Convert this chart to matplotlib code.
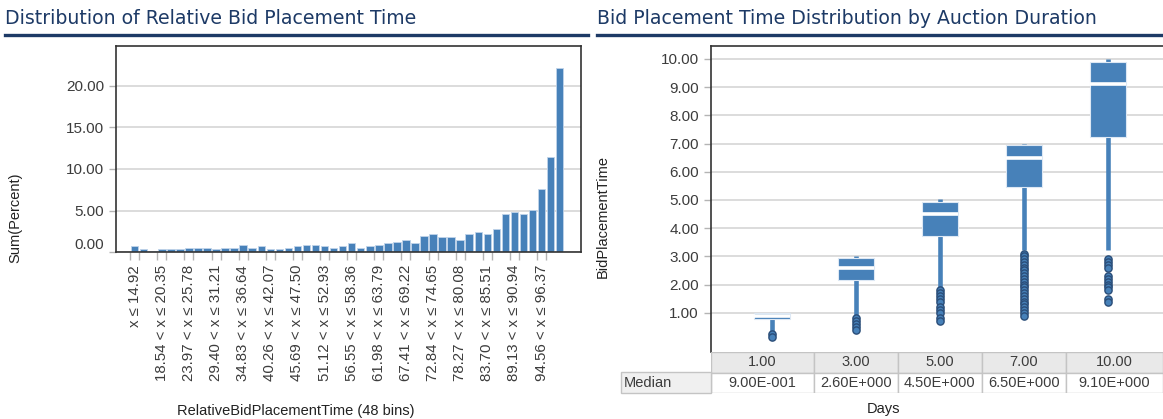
"""Spotfire-style dashboard: relative bid time histogram + box plot by auction duration."""

import matplotlib

matplotlib.use("Agg")
import matplotlib.pyplot as plt
from matplotlib.lines import Line2D
from matplotlib.patches import Rectangle

# --------------------------------------------------------------------------- #
# Data
# --------------------------------------------------------------------------- #

# 48 bins of RelativeBidPlacementTime, bin edges 13.11 .. 100.00 step 1.81
bin_lo = [13.11 + 1.81 * i for i in range(48)]
bin_hi = [14.92 + 1.81 * i for i in range(48)]
percent = [
    0.72, 0.36, 0.16, 0.36, 0.36, 0.36, 0.56, 0.56, 0.56, 0.36, 0.56, 0.56,
    0.88, 0.56, 0.72, 0.36, 0.36, 0.56, 0.72, 0.88, 0.88, 0.72, 0.56, 0.72,
    1.08, 0.56, 0.72, 0.88, 1.08, 1.24, 1.44, 1.08, 1.92, 2.16, 1.80, 1.80,
    1.44, 2.16, 2.48, 2.16, 2.84, 4.60, 4.80, 4.60, 5.12, 7.56, 11.45, 22.15,
]
hist_yticks = [0, 5, 10, 15, 20]

days = ["1.00", "3.00", "5.00", "7.00", "10.00"]
q1 = [0.78, 2.15, 3.74, 5.47, 7.22]
median = [0.90, 2.60, 4.50, 6.50, 9.10]
q3 = [1.00, 2.95, 4.94, 6.94, 9.90]
whis_lo = [0.33, 0.90, 1.93, 3.24, 3.22]
whis_hi = [1.00, 3.02, 5.02, 7.00, 10.00]
outliers = [
    [0.25, 0.15],
    [0.80, 0.70, 0.60, 0.50, 0.40],
    [1.80, 1.70, 1.60, 1.50, 1.40, 1.20, 1.10, 1.00, 0.80, 0.70],
    [3.10, 3.00, 2.90, 2.80, 2.70, 2.60, 2.50, 2.40, 2.30, 2.20, 2.10, 2.00,
     1.90, 1.80, 1.70, 1.60, 1.50, 1.40, 1.30, 1.20, 1.10, 1.00, 0.90],
    [2.90, 2.80, 2.70, 2.60, 2.30, 2.20, 2.10, 2.00, 1.90, 1.80, 1.50, 1.40],
]
box_yticks = [1, 2, 3, 4, 5, 6, 7, 8, 9, 10]

# --------------------------------------------------------------------------- #
# Style
# --------------------------------------------------------------------------- #
W, H = 1163, 419
BLUE = "#4781b9"
NAVY = "#1d3a66"
GRID = "#d9d9d9"
TICK = "#b4b4b4"
TXT = "#3c3c3c"

plt.rcParams["font.family"] = ["Liberation Sans", "DejaVu Sans"]
plt.rcParams["font.size"] = 10


def px_box(left, top, right, bottom):
    """Axes rect from pixel edges (origin top-left)."""
    return [left / W, 1 - bottom / H, (right - left) / W, (bottom - top) / H]


def fx(x):
    return x / W


def fy(y):
    return 1 - y / H


fig = plt.figure(figsize=(W / 100, H / 100), dpi=100)

# Panel titles with underline
for x0, x1, title in [
    (5, 588, "Distribution of Relative Bid Placement Time"),
    (597, 1163, "Bid Placement Time Distribution by Auction Duration"),
]:
    fig.text(fx(x0), fy(18), title, fontsize=13.6, color=NAVY, va="center",
             ha="left", family="DejaVu Sans")
    fig.add_artist(Line2D([fx(x0), fx(x1)], [fy(35), fy(35)], color=NAVY, lw=2.4,
                          transform=fig.transFigure))


def style_axes(ax):
    for sp in ax.spines.values():
        sp.set_color("#333333")
        sp.set_linewidth(1.2)
    ax.tick_params(axis="y", colors=TICK, labelcolor=TXT, length=5, width=1,
                   labelsize=11)
    ax.grid(True, axis="y", color=GRID, lw=1.3)
    ax.set_axisbelow(True)


# --------------------------------------------------------------------------- #
# Left: histogram
# --------------------------------------------------------------------------- #
ax1 = fig.add_axes(px_box(115.7, 45.7, 580.7, 252.3))
style_axes(ax1)
pos = list(range(len(percent)))
ax1.bar([p + 0.5 for p in pos], percent, width=0.83, color=BLUE,
        edgecolor="#c0d4ea", linewidth=0.6, zorder=2)
ax1.set_xlim(-1.6, 49.83)
ax1.set_ylim(0, 24.8)
ax1.set_yticks(hist_yticks)
ax1.set_yticklabels([f"{v:.2f}" for v in hist_yticks])
ax1.get_yticklabels()[0].set_va("bottom")

lab_idx = pos[::3]
labels = []
for i in lab_idx:
    if i == 0:
        labels.append(f"x \u2264 {bin_hi[i]:.2f}")
    else:
        labels.append(f"{bin_lo[i]:.2f} < x \u2264 {bin_hi[i]:.2f}")
ax1.set_xticks([i + 0.5 for i in lab_idx])
ax1.set_xticklabels(labels, rotation=90, fontsize=10.8, color=TXT)
ax1.tick_params(axis="x", length=0, pad=9)
ax1.set_xticks([e for i in lab_idx for e in (i, i + 1)], minor=True)
ax1.tick_params(axis="x", which="minor", length=6, width=1, colors=TICK)

fig.text(fx(296), fy(411), "RelativeBidPlacementTime (48 bins)", ha="center",
         va="center", fontsize=10.5, color="#222222")
fig.text(fx(15), fy(218), "Sum(Percent)", rotation=90, ha="center", va="center",
         fontsize=10.5, color="#222222")

# --------------------------------------------------------------------------- #
# Right: box plot
# --------------------------------------------------------------------------- #
AX2_L, AX2_R, SLOT = 710.7, 1170, 84.0
ax2 = fig.add_axes(px_box(AX2_L, 45.7, AX2_R, 352))
style_axes(ax2)
ax2.spines["bottom"].set_visible(False)
ax2.spines["right"].set_visible(False)

stats = []
for k in range(len(days)):
    stats.append(dict(q1=q1[k], med=median[k], q3=q3[k], whislo=whis_lo[k],
                      whishi=whis_hi[k], fliers=outliers[k]))
xpos = list(range(len(days)))
ax2.bxp(
    stats, positions=xpos, widths=0.43, patch_artist=True, showcaps=False,
    boxprops=dict(facecolor=BLUE, edgecolor="#dde8f4", linewidth=0.8, zorder=3),
    medianprops=dict(color="white", linewidth=2.6, zorder=4),
    whiskerprops=dict(color=BLUE, linewidth=3.3, zorder=2, solid_capstyle="butt"),
    flierprops=dict(marker="o", markersize=5.2, markerfacecolor=BLUE,
                    markeredgecolor="#2a4d78", markeredgewidth=1.0, zorder=5),
)
xlo = -0.725
xhi = xlo + (AX2_R - AX2_L) / SLOT
ax2.set_xlim(xlo, xhi)
ax2.set_ylim(-0.39, 10.47)
ax2.set_yticks(box_yticks)
ax2.set_yticklabels([f"{v:.2f}" for v in box_yticks])
ax2.set_xticks([])

fig.text(fx(603), fy(216), "BidPlacementTime", rotation=90, ha="center",
         va="center", fontsize=10.5, color="#222222")

# Statistics table under the box plot, columns follow the category slots
tab = fig.add_axes(px_box(AX2_L, 352, AX2_R, 393))
tab.set_xlim(xlo, xhi)
tab.set_ylim(0, 2)
tab.axis("off")
edges = ([xlo] + [(a + b) / 2 for a, b in zip(xpos[:-1], xpos[1:])]
         + [xlo + (W - AX2_L) / SLOT])
for k, d in enumerate(days):
    l, r = edges[k], edges[k + 1]
    tab.add_patch(Rectangle((l, 1), r - l, 1, facecolor="#e9e9e9", edgecolor="#c4c4c4", lw=1))
    tab.add_patch(Rectangle((l, 0), r - l, 1, facecolor="white", edgecolor="#c4c4c4", lw=1))
    tab.text((l + r) / 2, 1.5, d, ha="center", va="center", fontsize=10.5, color=TXT)
    m = median[k]
    exp = 0
    while m >= 10:
        m /= 10
        exp += 1
    while m < 1:
        m *= 10
        exp -= 1
    sign = "+" if exp >= 0 else "-"
    tab.text((l + r) / 2, 0.5, f"{m:.2f}E{sign}{abs(exp):03d}", ha="center",
             va="center", fontsize=10.5, color=TXT)

# "Median" row header cell
fig.add_artist(Rectangle((fx(621), fy(393)), fx(AX2_L) - fx(621), fy(372) - fy(393),
                         facecolor="#f0f0f0", edgecolor="#c4c4c4", lw=1,
                         transform=fig.transFigure))
fig.text(fx(624), fy(382.5), "Median", ha="left", va="center", fontsize=10.5, color=TXT)

fig.text(fx(883), fy(409), "Days", ha="center", va="center", fontsize=10.5,
         color="#222222")

fig.savefig("out.png", dpi=100)
